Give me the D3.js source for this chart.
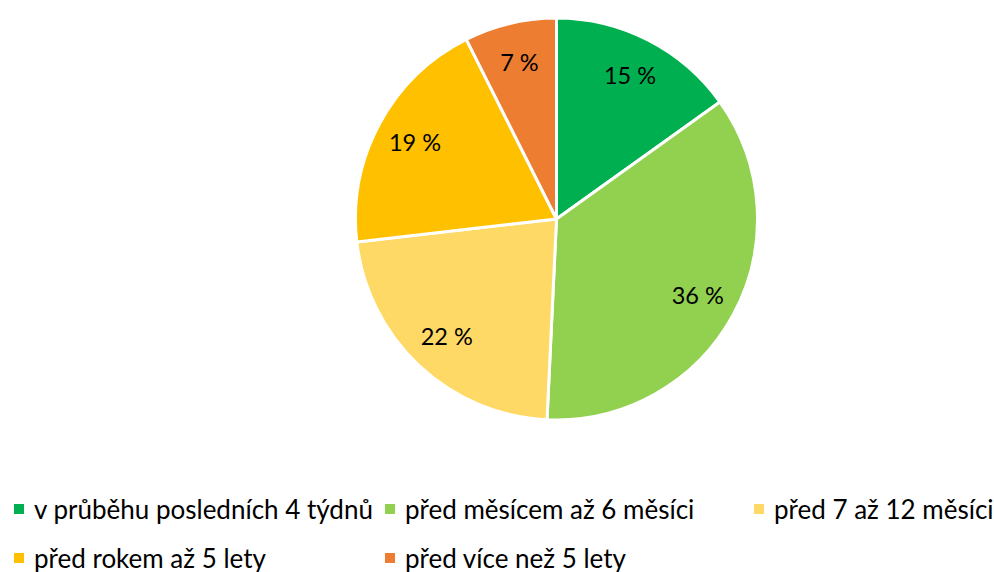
<!DOCTYPE html>
<html>
<head>
<meta charset="utf-8">
<script src="https://cdn.jsdelivr.net/npm/d3@7"></script>
<style>
html,body{margin:0;padding:0;background:#fff;}
svg{display:block;}
text{font-family:Lato,"Open Sans",sans-serif;}
</style>
</head>
<body>
<svg id="chart" width="994" height="572"></svg>
<script>
const categories = ["v průběhu posledních 4 týdnů","před měsícem až 6 měsíci","před 7 až 12 měsíci","před rokem až 5 lety","před více než 5 lety"];
const values = [15.1, 35.6, 22.4, 19.4, 7.4];
const labels = ["15 %","36 %","22 %","19 %","7 %"];
const colors = ["#00B050","#92D050","#FFD966","#FFC000","#ED7D31"];

const svg = d3.select("#chart");
const cx = 556.5, cy = 219, R = 201;

const data = categories.map((c,i)=>({cat:c, value:values[i], label:labels[i], color:colors[i]}));
const pie = d3.pie().value(d=>d.value).sort(null);
const arcs = pie(data);
const arc = d3.arc().innerRadius(0).outerRadius(R);
const labelArc = d3.arc().innerRadius(R*0.8).outerRadius(R*0.8);

const g = svg.append("g").attr("transform",`translate(${cx},${cy})`);
g.selectAll("path").data(arcs).join("path")
  .attr("d",arc)
  .attr("fill",d=>d.data.color)
  .attr("stroke","#fff")
  .attr("stroke-width",3)
  .attr("stroke-linejoin","round");

g.selectAll("text.lbl").data(arcs).join("text")
  .attr("class","lbl")
  .attr("transform",d=>`translate(${labelArc.centroid(d)})`)
  .attr("text-anchor","middle")
  .attr("dy","0.36em")
  .attr("font-size",23.5)
  .attr("fill","#000")
  .text(d=>d.data.label);

// legend
const colX = [14, 385, 754];
const rowY = [509, 558];
const leg = svg.append("g");
data.forEach((d,i)=>{
  const col = i % 3, row = Math.floor(i/3);
  const x = colX[col], y = rowY[row];
  leg.append("rect").attr("x",x).attr("y",y-5).attr("width",10).attr("height",10).attr("fill",d.color);
  leg.append("text").attr("x",x+20).attr("y",y+10)
    .attr("font-size",26).attr("fill","#000").text(d.cat);
});
</script>
</body>
</html>
